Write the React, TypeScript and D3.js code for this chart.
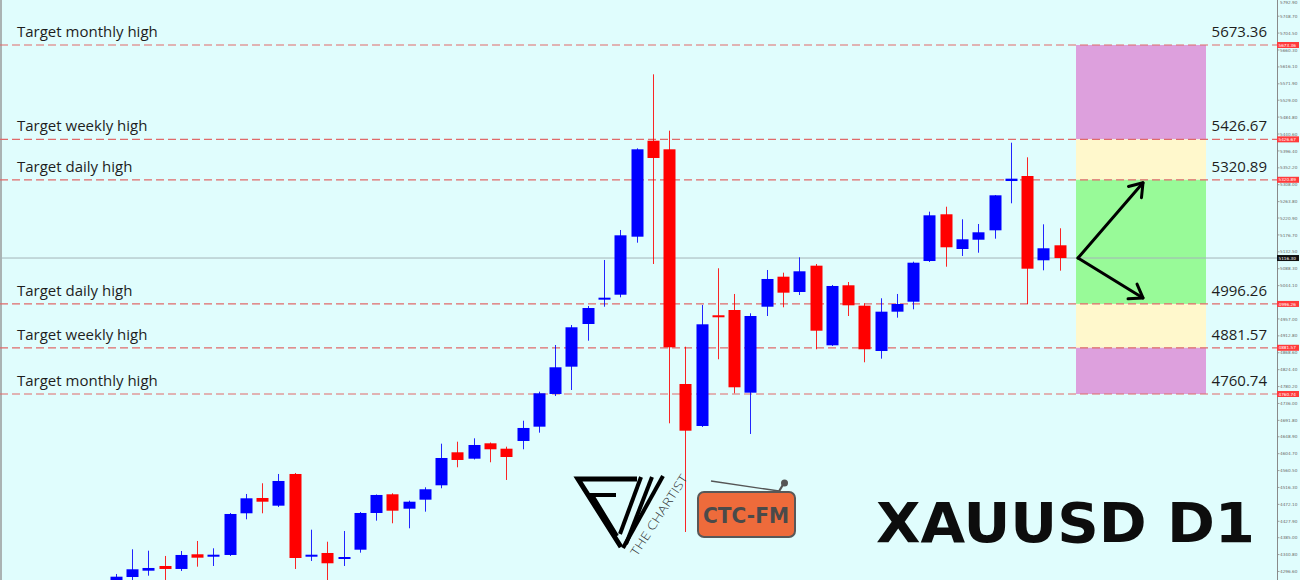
import React from "react";
import * as d3 from "d3";

const W = 1300;
const H = 580;

// OHLC daily candles (XAUUSD D1), oldest -> newest
const opens = [4261.3, 4282.2, 4298.7, 4311.0, 4303.2, 4341.6, 4335.3, 4339.8, 4448.8, 4488.8, 4468.7, 4551.6, 4336.4, 4345.0, 4330.1, 4353.6, 4449.6, 4498.5, 4460.8, 4484.4, 4522.0, 4608.3, 4591.6, 4631.8, 4617.7, 4637.9, 4675.3, 4760.8, 4832.2, 4943.8, 5008.4, 5020.4, 5172.1, 5423.1, 5400.6, 4786.9, 4677.1, 4966.6, 4980.4, 4764.2, 4989.0, 5067.5, 5027.5, 5096.3, 4888.1, 5045.0, 4991.7, 4873.2, 4976.0, 5002.1, 5108.5, 5230.7, 5139.9, 5164.2, 5188.8, 5317.7, 5330.8, 5110.4, 5149.6];
const highs = [4290.1, 4354.7, 4351.0, 4337.2, 4350.2, 4376.4, 4357.3, 4449.6, 4499.3, 4527.3, 4551.6, 4554.2, 4405.9, 4374.5, 4402.5, 4452.2, 4498.0, 4501.1, 4481.8, 4516.8, 4630.8, 4636.0, 4644.9, 4633.9, 4623.0, 4690.9, 4766.8, 4888.9, 4941.2, 4990.9, 5111.2, 5189.6, 5403.2, 5596.7, 5449.3, 4884.4, 4993.5, 5089.5, 5022.3, 4971.8, 5085.0, 5078.0, 5118.2, 5100.7, 5045.8, 5053.6, 4997.9, 5011.0, 5022.3, 5106.7, 5237.5, 5250.5, 5217.6, 5205.3, 5281.1, 5417.9, 5379.7, 5204.5, 5194.1];
const lows = [4253.5, 4274.4, 4285.6, 4274.4, 4297.9, 4309.2, 4311.0, 4337.2, 4433.1, 4448.8, 4465.3, 4303.2, 4324.1, 4261.3, 4311.0, 4345.8, 4429.5, 4422.7, 4409.6, 4453.0, 4514.2, 4569.1, 4589.5, 4582.2, 4535.9, 4616.2, 4659.6, 4755.5, 4771.2, 4900.1, 4989.0, 5013.6, 5156.4, 5100.7, 4684.1, 4399.9, 4674.5, 4851.5, 4762.6, 4656.2, 4964.7, 4987.5, 5019.6, 4877.7, 4886.3, 4964.7, 4843.7, 4853.1, 4960.3, 4982.2, 5105.9, 5093.6, 5121.6, 5130.2, 5166.9, 5259.4, 4996.1, 5084.2, 5083.2];
const closes = [4283.0, 4302.4, 4305.8, 4303.2, 4339.8, 4332.7, 4340.5, 4447.0, 4488.0, 4479.1, 4533.3, 4331.9, 4340.5, 4318.1, 4334.5, 4449.6, 4496.7, 4455.6, 4479.1, 4511.6, 4593.4, 4588.2, 4627.4, 4616.2, 4596.0, 4671.9, 4762.6, 4830.6, 4935.2, 4985.6, 5012.6, 5175.7, 5400.6, 5377.9, 4882.9, 4664.8, 4943.0, 4962.1, 4778.3, 4964.7, 5061.5, 5025.7, 5081.6, 4926.3, 5043.2, 4992.7, 4877.7, 4976.0, 4996.1, 5104.1, 5228.0, 5144.4, 5165.3, 5183.6, 5280.3, 5323.8, 5088.4, 5141.8, 5116.3];

// Target levels
const levelValues = [5673.36, 5426.67, 5320.89, 4996.26, 4881.57, 4760.74];
const levelLabels = ["Target monthly high", "Target weekly high", "Target daily high", "Target daily high", "Target weekly high", "Target monthly high"];
const zoneColors = ["#dda0dd", "#fff8cc", "#98fa98", "#fff8cc", "#dda0dd"];

// Price axis tick labels
const axisTicks = [5792.90, 5748.70, 5704.50, 5660.30, 5616.10, 5571.90, 5529.00, 5484.80, 5440.60, 5396.40, 5352.20, 5308.00, 5263.80, 5220.90, 5176.70, 5132.50, 5088.30, 5044.10, 4957.00, 4912.80, 4868.60, 4824.40, 4780.20, 4736.00, 4691.80, 4648.90, 4604.70, 4560.50, 4516.30, 4472.10, 4427.90, 4385.00, 4340.80, 4296.60];

const BG = "#e0fdfd";
const BULL = "#0000ff";
const BEAR = "#ff0000";
const AXIS_X = 1277;

export default function App() {
  const n = closes.length;
  const x = d3.scaleLinear().domain([0, n - 1]).range([115.7, 1059.7]);
  const y = d3.scaleLinear().domain([4760.74, 5673.36]).range([394, 45]);
  const bodyW = 12;
  const current = closes[n - 1];
  const yCur = y(current);

  const zoneX0 = 1076;
  const zoneX1 = 1206;

  // arrows
  const start: [number, number] = [1078, yCur];
  const tips: [number, number][] = [
    [1143, y(levelValues[2]) + 3],
    [1143, y(levelValues[3]) - 6],
  ];
  const head = (tip: [number, number]) => {
    const ang = Math.atan2(tip[1] - start[1], tip[0] - start[0]) + Math.PI;
    const L = 15;
    const a1 = ang - (35 * Math.PI) / 180;
    const a2 = ang + (35 * Math.PI) / 180;
    return `M${tip[0] + L * Math.cos(a1)},${tip[1] + L * Math.sin(a1)}L${tip[0]},${tip[1]}L${tip[0] + L * Math.cos(a2)},${tip[1] + L * Math.sin(a2)}`;
  };

  const fmt = d3.format(".2f");

  return (
    <svg
      width={W}
      height={H}
      style={{ position: "absolute", left: 0, top: 0, display: "block" }}
      fontFamily="'Open Sans', sans-serif"
    >
      <rect x={0} y={0} width={W} height={H} fill={BG} />
      <line x1={1} x2={1} y1={0} y2={H} stroke="#9a9a9a" strokeWidth={1.5} />

      {/* zones */}
      {zoneColors.map((c, i) => (
        <rect
          key={"z" + i}
          x={zoneX0}
          y={y(levelValues[i])}
          width={zoneX1 - zoneX0}
          height={y(levelValues[i + 1]) - y(levelValues[i])}
          fill={c}
        />
      ))}

      {/* current price line */}
      <line x1={0} x2={AXIS_X} y1={yCur} y2={yCur} stroke="#a4b4b8" strokeWidth={1} />

      {/* level dashed lines */}
      {levelValues.map((v, i) => (
        <line
          key={"l" + i}
          x1={0}
          x2={AXIS_X}
          y1={y(v)}
          y2={y(v)}
          stroke="#e06a6a"
          strokeWidth={1.2}
          strokeDasharray="8 4"
        />
      ))}

      {/* candles */}
      {closes.map((c, i) => {
        const o = opens[i];
        const up = c >= o;
        const col = up ? BULL : BEAR;
        const cx = Math.round(x(i)) + 0.5;
        const top = y(Math.max(o, c));
        const bot = y(Math.min(o, c));
        return (
          <g key={"c" + i}>
            <line x1={cx} x2={cx} y1={y(highs[i])} y2={y(lows[i])} stroke={col} strokeWidth={1} opacity={0.85} />
            <rect x={cx - bodyW / 2} y={top} width={bodyW} height={Math.max(2, bot - top)} fill={col} />
          </g>
        );
      })}

      {/* labels */}
      {levelValues.map((v, i) => (
        <g key={"t" + i}>
          <text x={17} y={y(v) - 8} fontSize={15} fill="#1e1e1e">
            {levelLabels[i]}
          </text>
          <text x={1267} y={y(v) - 8} fontSize={15} fill="#1e1e1e" textAnchor="end">
            {fmt(v)}
          </text>
        </g>
      ))}

      {/* arrows */}
      {tips.map((t, i) => (
        <g key={"a" + i} fill="none" stroke="#000" strokeWidth={3} strokeLinecap="round" strokeLinejoin="round">
          <path d={`M${start[0]},${start[1]}L${t[0]},${t[1]}`} />
          <path d={head(t)} />
        </g>
      ))}

      {/* price axis */}
      <line x1={AXIS_X + 0.5} x2={AXIS_X + 0.5} y1={0} y2={H} stroke="#8a8a8a" strokeWidth={1} />
      {axisTicks.map((t, i) => (
        <g key={"at" + i}>
          <line x1={AXIS_X} x2={AXIS_X + 2.5} y1={y(t)} y2={y(t)} stroke="#8a8a8a" strokeWidth={0.8} />
          <text
            x={AXIS_X + 3}
            y={Math.max(4, y(t) + 1.6)}
            fontSize={4.2}
            fill="#6a6a6a"
            fontFamily="'DejaVu Sans', sans-serif"
          >
            {fmt(t)}
          </text>
        </g>
      ))}
      {levelValues.map((v, i) => (
        <g key={"ab" + i}>
          <rect x={AXIS_X} y={y(v) - 3} width={22} height={6} fill="#ff3b3b" />
          <text x={AXIS_X + 1.5} y={y(v) + 1.6} fontSize={4.2} fill="#fff" fontFamily="'DejaVu Sans', sans-serif">
            {fmt(v)}
          </text>
        </g>
      ))}
      <rect x={AXIS_X} y={yCur - 3} width={22} height={6} fill="#111" />
      <text x={AXIS_X + 1.5} y={yCur + 1.6} fontSize={4.2} fill="#fff" fontFamily="'DejaVu Sans', sans-serif">
        {fmt(current)}
      </text>

      {/* The Chartist logo */}
      <g fill="none" stroke="#000" strokeLinejoin="miter">
        <path d="M637,479 L578,479 L621,547" strokeWidth={5} />
        <path d="M616,495 L592,495 L617,536" strokeWidth={4} />
        <path d="M641,477 L620,534" strokeWidth={4} />
        <path d="M652,477 L626,544" strokeWidth={4} />
        <path d="M663,476 L623,548" strokeWidth={4} />
      </g>
      <text
        transform="translate(637,557) rotate(-57)"
        fontSize={12}
        fill="#333"
        fontWeight={300}
        textLength={94}
        lengthAdjust="spacingAndGlyphs"
        fontFamily="'Open Sans', sans-serif"
      >
        THE CHARTIST
      </text>

      {/* CTC-FM logo */}
      <line x1={711} y1={481} x2={779} y2={491} stroke="#555" strokeWidth={1.3} />
      <line x1={784} y1={483} x2={778} y2={493} stroke="#555" strokeWidth={2.2} />
      <circle cx={784.5} cy={483} r={3.5} fill="#555" />
      <rect x={698} y={492} width={97} height={45} rx={6} fill="#ee6b3b" stroke="#585858" strokeWidth={2} />
      <text
        x={746}
        y={523}
        textAnchor="middle"
        fontSize={22}
        fontWeight="bold"
        fill="#4a4a4a"
        textLength={86}
        lengthAdjust="spacingAndGlyphs"
        fontFamily="'DejaVu Sans', sans-serif"
      >
        CTC-FM
      </text>

      {/* title */}
      <text
        x={876}
        y={542}
        fontSize={55}
        fontWeight="bold"
        fill="#0d0d0d"
        textLength={379}
        lengthAdjust="spacingAndGlyphs"
        fontFamily="'DejaVu Sans', sans-serif"
      >
        XAUUSD D1
      </text>
    </svg>
  );
}
